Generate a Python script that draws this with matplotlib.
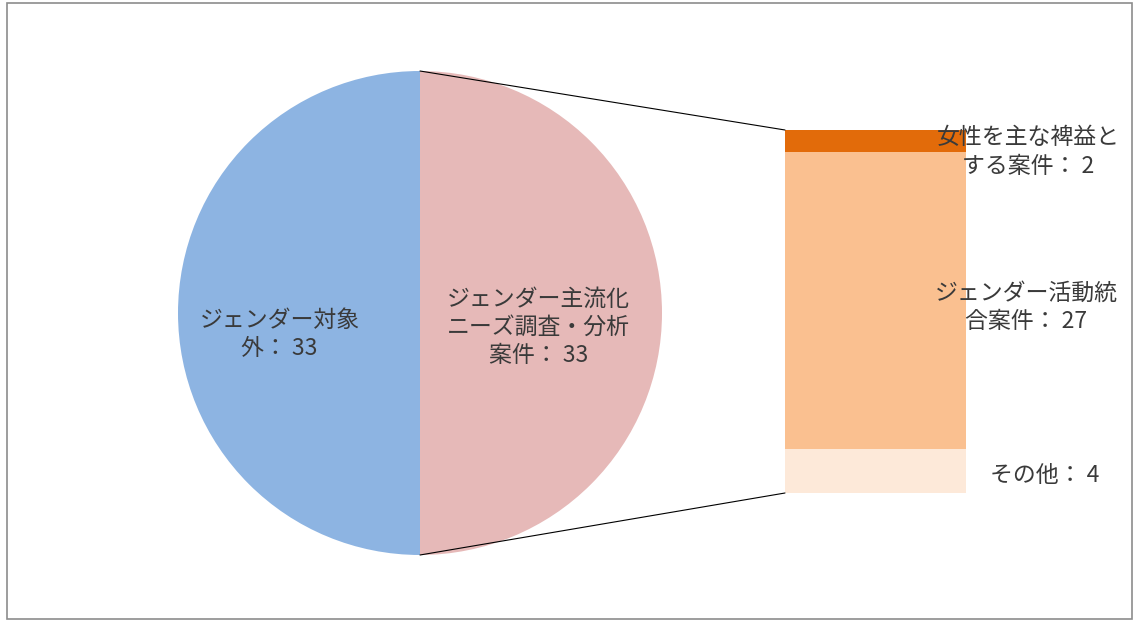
import matplotlib
matplotlib.use('Agg')
import matplotlib.pyplot as plt
from matplotlib.patches import ConnectionPatch, Rectangle

plt.rcParams['font.family'] = ['Noto Sans CJK JP', 'DejaVu Sans']

W, H = 1137, 621

pie_labels = ['ジェンダー対象\n外： 33', 'ジェンダー主流化\nニーズ調査・分析\n案件： 33']
pie_values = [33, 33]
pie_colors = ['#8DB4E2', '#E6B9B8']

# bar segments from bottom to top
bar_labels = ['その他： 4', 'ジェンダー活動統\n合案件： 27', '女性を主な裨益と\nする案件： 2']
bar_values = [4, 27, 2]
bar_colors = ['#FDE9D9', '#FAC090', '#E26B0A']

TEXT = '#3A3A3A'
FS = 16.5
LS = 1.3


def fig_rect(x0, y0, x1, y1):
    # pixel box (top-left origin) -> figure fraction rect
    return [x0 / W, (H - y1) / H, (x1 - x0) / W, (y1 - y0) / H]


fig = plt.figure(figsize=(W / 100, H / 100), dpi=100)

# pie
ax_pie = fig.add_axes(fig_rect(178, 71, 662, 555))
wedges, _ = ax_pie.pie(pie_values, colors=pie_colors, startangle=90,
                       counterclock=True, radius=1,
                       wedgeprops=dict(linewidth=0))
ax_pie.set_xlim(-1, 1)
ax_pie.set_ylim(-1, 1)
ax_pie.axis('off')

pie_label_pos = [(-0.58, -0.09), (0.49, -0.06)]
for label, (x, y) in zip(pie_labels, pie_label_pos):
    ax_pie.text(x, y, label, ha='center', va='center', fontsize=FS,
                color=TEXT, linespacing=LS)

# bar
ax_bar = fig.add_axes(fig_rect(785, 130, 966, 493))
bottom = 0
for v, c in zip(bar_values, bar_colors):
    ax_bar.bar(0, v, bottom=bottom, width=1, color=c, linewidth=0)
    bottom += v
ax_bar.set_xlim(-0.5, 0.5)
ax_bar.set_ylim(0, sum(bar_values))
ax_bar.axis('off')

bar_label_pos = [(1045, 475), (1026, 307), (1028, 152)]
for label, (x, y) in zip(bar_labels, bar_label_pos):
    fig.text(x / W, (H - y) / H, label, ha='center', va='center',
             fontsize=FS, color=TEXT, linespacing=LS)

# connector lines
for py, by in [(1, sum(bar_values)), (-1, 0)]:
    con = ConnectionPatch(xyA=(0, py), coordsA=ax_pie.transData,
                          xyB=(-0.5, by), coordsB=ax_bar.transData,
                          color='black', linewidth=0.8)
    fig.add_artist(con)

# outer frame
fig.add_artist(Rectangle((7 / W, 2 / H), 1125 / W, 616 / H,
                         transform=fig.transFigure, fill=False,
                         edgecolor='#8C8C8C', linewidth=1.2))

fig.savefig('out.png', dpi=100, facecolor='white')
